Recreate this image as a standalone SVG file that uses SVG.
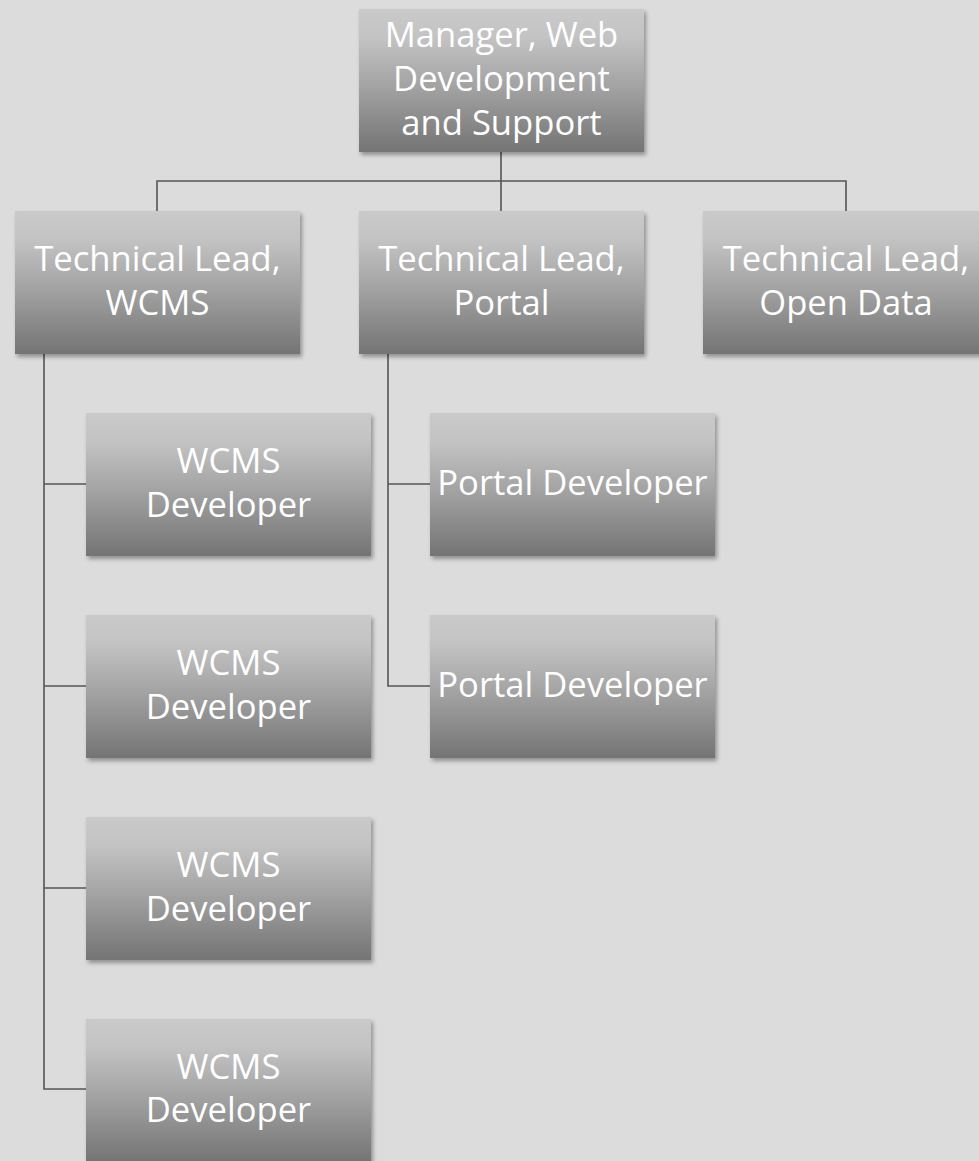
<svg xmlns="http://www.w3.org/2000/svg" width="979" height="1161" viewBox="0 0 979 1161">
<defs>
<linearGradient id="g" x1="0" y1="0" x2="0" y2="1">
<stop offset="0" stop-color="#cacaca"/>
<stop offset="0.2" stop-color="#c3c3c3"/>
<stop offset="0.55" stop-color="#a2a2a2"/>
<stop offset="1" stop-color="#747474"/>
</linearGradient>
<filter id="sh" x="-10%" y="-10%" width="125%" height="130%">
<feDropShadow dx="2" dy="3" stdDeviation="2" flood-color="#000" flood-opacity="0.35"/>
</filter>
</defs>
<style>
.box{fill:url(#g);filter:url(#sh)}
.t{font-family:"Open Sans","Noto Sans",sans-serif;font-size:34.6px;fill:#fff;text-anchor:middle}
.c{fill:none;stroke:#555;stroke-width:1.6}
</style>
<rect width="979" height="1161" fill="#dcdcdc"/>
<g id="connectors">
<path class="c" d="M157,211 V181 H846 V211 M501,152 V211"/>
<path class="c" d="M44,354 V1089 H86 M44,484 H86 M44,686 H86 M44,888 H86"/>
<path class="c" d="M388,354 V686 H430 M388,484 H430"/>
</g>
<g id="manager">
<rect class="box" x="359" y="9" width="285" height="143"/>
<text class="t" x="501.5" y="47">Manager, Web</text>
<text class="t" x="501.5" y="91">Development</text>
<text class="t" x="501.5" y="135">and Support</text>
</g>
<g id="lead-wcms">
<rect class="box" x="15" y="211" width="285" height="143"/>
<text class="t" x="157.5" y="271">Technical Lead,</text>
<text class="t" x="157.5" y="315">WCMS</text>
</g>
<g id="lead-portal">
<rect class="box" x="359" y="211" width="285" height="143"/>
<text class="t" x="501.5" y="271">Technical Lead,</text>
<text class="t" x="501.5" y="315">Portal</text>
</g>
<g id="lead-opendata">
<rect class="box" x="703" y="211" width="285" height="143"/>
<text class="t" x="846" y="271">Technical Lead,</text>
<text class="t" x="846" y="315">Open Data</text>
</g>
<g id="wcms-dev-1">
<rect class="box" x="86" y="413" width="285" height="143"/>
<text class="t" x="228.5" y="473">WCMS</text>
<text class="t" x="228.5" y="517">Developer</text>
</g>
<g id="wcms-dev-2">
<rect class="box" x="86" y="615" width="285" height="143"/>
<text class="t" x="228.5" y="675">WCMS</text>
<text class="t" x="228.5" y="719">Developer</text>
</g>
<g id="wcms-dev-3">
<rect class="box" x="86" y="817" width="285" height="143"/>
<text class="t" x="228.5" y="877">WCMS</text>
<text class="t" x="228.5" y="921">Developer</text>
</g>
<g id="wcms-dev-4">
<rect class="box" x="86" y="1019" width="285" height="143"/>
<text class="t" x="228.5" y="1079">WCMS</text>
<text class="t" x="228.5" y="1122">Developer</text>
</g>
<g id="portal-dev-1">
<rect class="box" x="430" y="413" width="285" height="143"/>
<text class="t" x="572.5" y="495">Portal Developer</text>
</g>
<g id="portal-dev-2">
<rect class="box" x="430" y="615" width="285" height="143"/>
<text class="t" x="572.5" y="697">Portal Developer</text>
</g>
</svg>
